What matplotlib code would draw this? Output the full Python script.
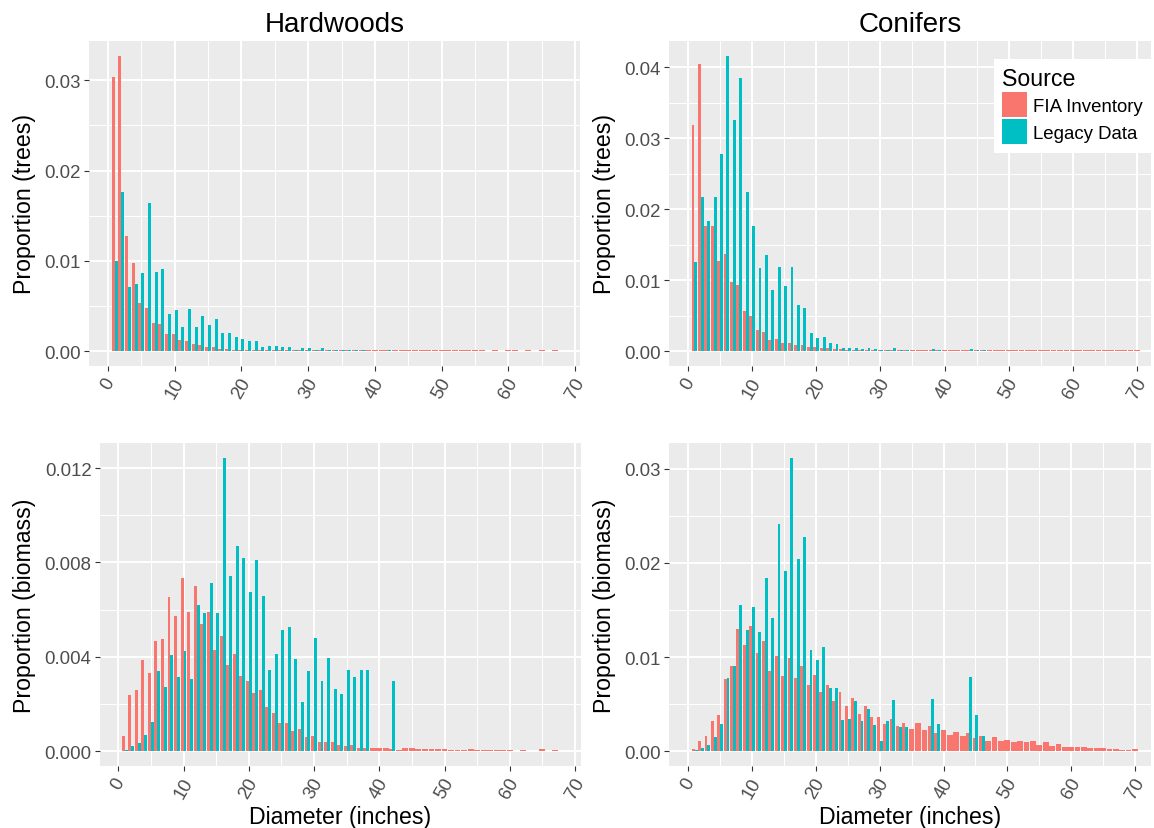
import matplotlib
matplotlib.use('Agg')
import matplotlib.pyplot as plt
from matplotlib.patches import Patch
from matplotlib.ticker import MultipleLocator, FormatStrFormatter

plt.rcParams['font.family'] = ['Liberation Sans', 'DejaVu Sans']

# proportions per 1-inch diameter class, starting at 1 inch; None = no trees
hw_trees_fia = [0.0303, 0.0327, 0.0128, 0.0098, 0.0053, 0.0048, 0.0031, 0.0030, 0.0019, 0.0019,
                0.00125, 0.00114, 0.0008, 0.0007, 0.00048, 0.00048, 0.00026, 0.00026, 0.00015, 0.00015,
                0.00015, 0.00015, 0.00012, 0.0001, 0.0001, 0.0001, 0.0001, 0.0001, 0.0001, 0.0001,
                0.0001, 0.0001, 0.0001, 0.0001, 0.0001, 0.0001, 0.0001, 0.0001, 0.0001, 0.0001,
                0.0001, 0.0001, 0.0001, 0.0001, 0.0001, 0.0001, 0.0001, 0.0001, 0.0001, 0.0001,
                0.0001, 0.0001, 0.0001, 0.00009, 0.0001, 0.00009, 0.00007, 0.0001, 0.00007, 0.0001,
                0.00009, 0.00007, 0.00009, 0.00007, 0.00009, 0.00007, 0.00009]
hw_trees_legacy = [0.0100, 0.0176, 0.0071, 0.0074, 0.0087, 0.0164, 0.0088, 0.0091, 0.0041, 0.0046,
                   0.0027, 0.0047, 0.0027, 0.0039, 0.0029, 0.0036, 0.0020, 0.0020, 0.0016, 0.0014,
                   0.0011, 0.0011, 0.0005, 0.0006, 0.0006, 0.0005, 0.0005, 0.00015, 0.00037, 0.00037,
                   0.00015, 0.00037, 0.00015, 0.00015, 0.00015, 0.00015, 0.00015, 0.00015, None, None,
                   None, 0.00015]

cf_trees_fia = [0.0319, 0.0405, 0.0176, 0.0176, 0.0127, 0.0137, 0.0097, 0.0093, 0.0057, 0.0050,
                0.0030, 0.0027, 0.0016, 0.0017, 0.0012, 0.0012, 0.0009, 0.0009, 0.0006, 0.0006,
                0.00047, 0.00047, 0.00033, 0.00033, 0.0002, 0.0002, 0.0002, 0.0002, 0.0002, 0.0002,
                0.0002, 0.0002, 0.0002, 0.0002, 0.00014, 0.00014, 0.00014, 0.00014, 0.00014, 0.00014,
                0.00014, 0.00014, 0.00014, 0.00014, 0.00014, 0.00014, 0.00014, 0.00014, 0.00014, 0.00014,
                0.00014, 0.00014, 0.00014, 0.00014, 0.00014, 0.00014, 0.00014, 0.00014, 0.00014, 0.00014,
                0.00014, 0.00014, 0.00014, 0.00014, 0.00014, 0.00014, 0.00014, 0.00014, 0.00014, 0.00014]
cf_trees_legacy = [0.0125, 0.0217, 0.0183, 0.0217, 0.0277, 0.0416, 0.0325, 0.0385, 0.0224, 0.0176,
                   0.0117, 0.0135, 0.0086, 0.0118, 0.0092, 0.0118, 0.0065, 0.0061, 0.0026, 0.0019,
                   0.0020, 0.0012, 0.0010, 0.00047, 0.00047, 0.00047, 0.00033, 0.00047, 0.00033, 0.0002,
                   0.0002, 0.00047, 0.0002, 0.0002, None, None, None, 0.00033, 0.0002, None,
                   None, None, None, 0.00033, 0.0002, 0.0002]

hw_bio_fia = [0.00064, 0.00237, 0.00259, 0.00385, 0.0033, 0.00466, 0.00475, 0.00653, 0.00572, 0.00734,
              0.00589, 0.0070, 0.00538, 0.00589, 0.00428, 0.00487, 0.00364, 0.00411, 0.00317, 0.0030,
              0.00245, 0.00258, 0.00186, 0.00164, 0.00122, 0.00122, 0.00084, 0.00096, 0.00062, 0.00067,
              0.00041, 0.00041, 0.00041, 0.00028, 0.00024, 0.00028, 0.00016, 0.00016, 0.00012, 0.00012,
              0.00012, 0.00009, 0.00005, 0.00012, 0.00012, 0.00009, 0.00009, 0.00009, 0.00009, 0.00009,
              0.00006, 0.00006, 0.00006, 0.00009, 0.00006, 0.00006, 0.00006, 0.00006, 0.00006, 0.00006,
              None, 0.00006, None, None, 0.00009, None, 0.00006]
hw_bio_legacy = [0.00007, 0.00024, 0.00037, 0.00071, 0.00126, 0.00339, 0.00271, 0.00407, 0.00313, 0.00424,
                 0.00305, 0.00619, 0.00585, 0.00713, 0.00585, 0.01244, 0.00742, 0.0087, 0.00819, 0.00674,
                 0.0081, 0.00657, 0.00343, 0.00411, 0.00513, 0.00526, 0.0039, 0.00211, 0.00339, 0.00479,
                 0.00296, 0.00394, 0.00262, 0.00241, 0.00343, 0.00313, 0.00343, 0.00343, None, None,
                 None, 0.0030]

cf_bio_fia = [0.00028, 0.00114, 0.00167, 0.00327, 0.0039, 0.00763, 0.00902, 0.01296, 0.01125, 0.01328,
              0.0104, 0.01168, 0.00848, 0.01008, 0.00795, 0.00987, 0.00774, 0.00902, 0.00699, 0.00806,
              0.00625, 0.00699, 0.00529, 0.00625, 0.00486, 0.00561, 0.00401, 0.00476, 0.00369, 0.00369,
              0.00295, 0.00348, 0.00273, 0.00305, 0.00241, 0.00305, 0.0023, 0.00273, 0.00199, 0.0023,
              0.00177, 0.00209, 0.00167, 0.00199, 0.00145, 0.00167, 0.00113, 0.00156, 0.00113, 0.00124,
              0.00103, 0.00113, 0.00103, 0.00113, 0.00071, 0.00103, 0.0006, 0.00082, 0.0005, 0.0005,
              0.0005, 0.0005, 0.00039, 0.00039, 0.00039, 0.00028, 0.00028, 0.00018, 0.00018, 0.00028]
cf_bio_legacy = [0.00018, 0.00039, 0.00071, 0.00156, 0.00295, 0.00774, 0.00902, 0.01551, 0.01285, 0.0153,
                 0.01264, 0.01839, 0.01413, 0.02414, 0.01913, 0.03117, 0.02041, 0.02275, 0.01072, 0.00966,
                 0.01104, 0.00667, 0.00667, 0.00337, 0.00348, 0.00529, 0.00327, 0.00444, 0.00284, 0.00114,
                 0.00327, 0.0055, 0.00263, 0.00263, None, None, None, 0.0056, 0.00294, None,
                 None, None, None, 0.00794, 0.0039, 0.00167]

FIA_COLOR = '#F8766D'
LEGACY_COLOR = '#00BFC4'
W, H = 1154, 829


def px_rect(left, right, top, bottom):
    return [left / W, 1 - bottom / H, (right - left) / W, (bottom - top) / H]


def dodge(fia, legacy, width=0.9):
    # ggplot-like position_dodge: a lone bar takes the whole slot
    n = max(len(fia), len(legacy))
    fia = fia + [None] * (n - len(fia))
    legacy = legacy + [None] * (n - len(legacy))
    out = {'fia': ([], [], []), 'legacy': ([], [], [])}
    for i in range(n):
        d = i + 1
        a, b = fia[i], legacy[i]
        if a is not None and b is not None:
            out['fia'][0].append(d - width / 4); out['fia'][1].append(a); out['fia'][2].append(width / 2)
            out['legacy'][0].append(d + width / 4); out['legacy'][1].append(b); out['legacy'][2].append(width / 2)
        elif a is not None:
            out['fia'][0].append(d); out['fia'][1].append(a); out['fia'][2].append(width)
        elif b is not None:
            out['legacy'][0].append(d); out['legacy'][1].append(b); out['legacy'][2].append(width)
    return out


def draw_panel(rect, fia, legacy, xlim, ystep, fmt):
    ax = fig.add_axes(px_rect(*rect))
    ax.set_facecolor('#EBEBEB')
    bars = dodge(fia, legacy)
    for key, color in (('fia', FIA_COLOR), ('legacy', LEGACY_COLOR)):
        x, h, w = bars[key]
        ax.bar(x, h, width=w, color=color, linewidth=0)
    ymax = max(v for v in fia + legacy if v is not None)
    ax.set_ylim(-0.05 * ymax, 1.05 * ymax)
    ax.set_xlim(*xlim)
    ax.xaxis.set_major_locator(MultipleLocator(10))
    ax.xaxis.set_minor_locator(MultipleLocator(5))
    ax.yaxis.set_major_locator(MultipleLocator(ystep))
    ax.yaxis.set_minor_locator(MultipleLocator(ystep / 2))
    ax.yaxis.set_major_formatter(FormatStrFormatter(fmt))
    ax.set_axisbelow(True)
    ax.grid(which='major', color='white', linewidth=1.4)
    ax.grid(which='minor', color='white', linewidth=0.7)
    for s in ax.spines.values():
        s.set_visible(False)
    ax.tick_params(which='major', length=3.6, width=0.8, color='#333333',
                   labelsize=13.4, labelcolor='#4D4D4D', pad=2.5)
    ax.tick_params(which='minor', length=0)
    for lab in ax.get_xticklabels():
        lab.set_rotation(60)
        lab.set_ha('center')
        lab.set_va('top')
    return ax


fig = plt.figure(figsize=(W / 100, H / 100), dpi=100)

ax1 = draw_panel((89, 580, 42, 367), hw_trees_fia, hw_trees_legacy, (-2.85, 70.75), 0.01, '%.2f')
ax2 = draw_panel((669, 1151, 42, 367), cf_trees_fia, cf_trees_legacy, (-2.96, 72.19), 0.01, '%.2f')
ax3 = draw_panel((100, 581, 444, 767), hw_bio_fia, hw_bio_legacy, (-2.80, 70.92), 0.004, '%.3f')
ax4 = draw_panel((669, 1151, 444, 767), cf_bio_fia, cf_bio_legacy, (-3.02, 72.51), 0.01, '%.2f')

ax1.set_title('Hardwoods', fontsize=20, pad=7)
ax2.set_title('Conifers', fontsize=20, pad=7)
for ax in (ax1, ax2):
    ax.set_ylabel('Proportion (trees)', fontsize=16.7, labelpad=6)
for ax in (ax3, ax4):
    ax.set_ylabel('Proportion (biomass)', fontsize=16.7, labelpad=6)
    ax.set_xlabel('Diameter (inches)', fontsize=16.7, labelpad=2.5)

handles = [Patch(facecolor=FIA_COLOR, edgecolor='none', label='FIA Inventory'),
           Patch(facecolor=LEGACY_COLOR, edgecolor='none', label='Legacy Data')]
leg = ax2.legend(handles=handles, title='Source', loc='upper right',
                 bbox_to_anchor=(1.0, 1 - 18 / 325), borderaxespad=0,
                 frameon=True, fancybox=False, facecolor='white', edgecolor='none',
                 framealpha=1, fontsize=13.4, title_fontsize=16.7,
                 handlelength=1.35, handleheight=1.7, labelspacing=0.1,
                 handletextpad=0.3, borderpad=0.45, alignment='left')

fig.savefig('out.png', dpi=100)
